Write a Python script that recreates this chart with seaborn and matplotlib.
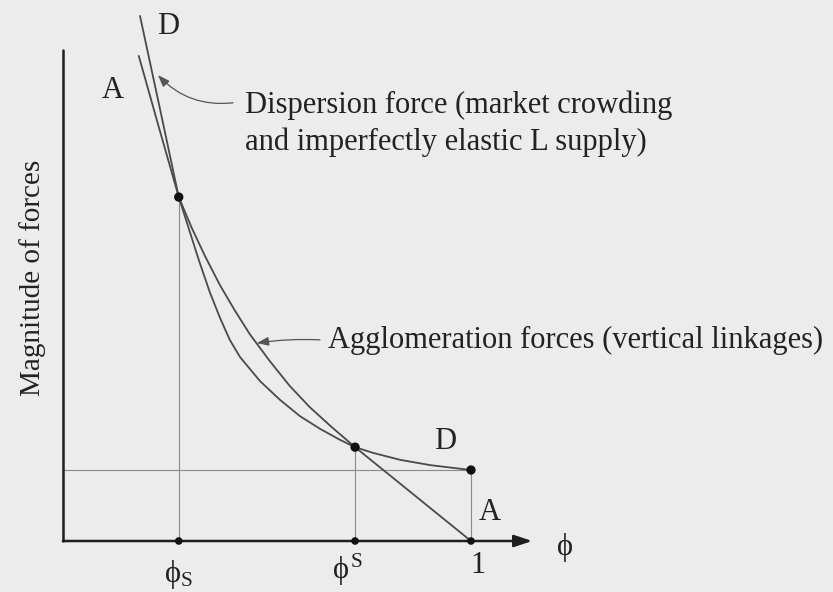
import pandas as pd
import seaborn as sns
import matplotlib.pyplot as plt

# points: phi on x, magnitude of forces on y
d_phi = [0.189, 0.238, 0.284, 0.333, 0.360, 0.385, 0.409, 0.434, 0.483, 0.532,
         0.581, 0.630, 0.679, 0.716, 0.760, 0.826, 0.900, 1.000]
d_force = [1.287, 1.059, 0.843, 0.689, 0.610, 0.547, 0.493, 0.451, 0.392, 0.346,
           0.306, 0.275, 0.248, 0.230, 0.216, 0.199, 0.186, 0.174]
a_phi = [0.186, 0.235, 0.284, 0.316, 0.348, 0.385, 0.422, 0.458, 0.507, 0.556,
         0.605, 0.659, 0.716, 1.000]
a_force = [1.189, 1.015, 0.843, 0.767, 0.699, 0.627, 0.564, 0.507, 0.441, 0.380,
           0.328, 0.279, 0.230, 0.000]

# key points
phi_s = 0.284       # sustain point
phi_S = 0.716       # break point
force_s = 0.843
force_S = 0.230
force_d1 = 0.174    # dispersion force at phi = 1

sns.set_theme(style="white")
plt.rcParams['font.family'] = ['Liberation Serif', 'DejaVu Serif']
plt.rcParams['mathtext.fontset'] = 'custom'
plt.rcParams['mathtext.rm'] = 'Liberation Serif'
plt.rcParams['mathtext.it'] = 'Liberation Serif'

bg = '#ececec'
fig = plt.figure(figsize=(8.33, 5.92), dpi=100, facecolor=bg)
ax = fig.add_axes([0, 0, 1, 1])
ax.set_facecolor(bg)
ax.set_xlim(-0.154, 1.887)
ax.set_ylim(-0.125, 1.326)
ax.axis('off')

# guide lines
guide = dict(color='#8a8a8a', lw=0.8, zorder=1)
ax.plot([0, 1], [force_d1, force_d1], **guide)
ax.plot([phi_s, phi_s], [0, force_s], **guide)
ax.plot([phi_S, phi_S], [0, force_S], **guide)
ax.plot([1, 1], [0, force_d1], **guide)

# curves
curves = pd.concat([
    pd.DataFrame({'phi': d_phi, 'force': d_force, 'curve': 'D'}),
    pd.DataFrame({'phi': a_phi, 'force': a_force, 'curve': 'A'}),
])
sns.lineplot(data=curves, x='phi', y='force', units='curve', estimator=None,
             sort=False, color='#4a4a4a', lw=1.3, ax=ax, zorder=3)

# axes drawn by hand
ax.plot([0, 0], [0, 1.203], color='#1e1e1e', lw=1.8, zorder=4)
ax.annotate('', xy=(1.150, 0), xytext=(0, 0),
            arrowprops=dict(arrowstyle='-|>,head_length=0.9,head_width=0.3',
                            color='#1e1e1e', lw=1.8, shrinkA=0, shrinkB=0), zorder=4)

# dots
dots = pd.DataFrame({'phi': [phi_s, phi_S, 1.0, phi_s, phi_S, 1.0],
                     'force': [force_s, force_S, force_d1, 0, 0, 0],
                     'size': [45, 45, 45, 30, 30, 30]})
sns.scatterplot(data=dots, x='phi', y='force', size='size', sizes=(30, 45),
                color='#111111', edgecolor='none', legend=False, ax=ax, zorder=5)

fs = 22
txt = dict(fontsize=fs, color='#222222')
ax.text(0.257, 1.260, 'D', ha='center', va='center', **txt)
ax.text(0.123, 1.105, 'A', ha='center', va='center', **txt)
ax.text(0.936, 0.243, 'D', ha='center', va='center', **txt)
ax.text(1.047, 0.069, 'A', ha='center', va='center', **txt)
ax.text(1.017, -0.059, '1', ha='center', va='center', **txt)
ax.text(1.230, -0.015, r'$\phi$', ha='center', va='center', **txt)
ax.text(0.282, -0.083, r'$\phi_{\mathrm{S}}$', ha='center', va='center', **txt)
ax.text(0.696, -0.094, r'$\phi^{\mathrm{S}}$', ha='center', va='baseline', **txt)
ax.text(-0.0735, 0.645, 'Magnitude of forces', rotation=90, ha='center', va='center',
        fontsize=21, color='#222222')

ax.text(0.446, 1.049, 'Dispersion force (market crowding', ha='left', va='baseline', **txt)
ax.text(0.446, 0.958, 'and imperfectly elastic L supply)', ha='left', va='baseline', **txt)
ax.text(0.650, 0.473, 'Agglomeration forces (vertical linkages)', ha='left', va='baseline', **txt)

arrow = dict(arrowstyle='-|>,head_length=0.6,head_width=0.22', color='#555555', lw=0.9,
             shrinkA=0, shrinkB=0)
ax.annotate('', xy=(0.233, 1.142), xytext=(0.417, 1.074),
            arrowprops=dict(connectionstyle='arc3,rad=-0.25', **arrow))
ax.annotate('', xy=(0.475, 0.485), xytext=(0.630, 0.493),
            arrowprops=dict(connectionstyle='arc3,rad=0.05', **arrow))

plt.savefig('out.png', dpi=100, facecolor=bg)
